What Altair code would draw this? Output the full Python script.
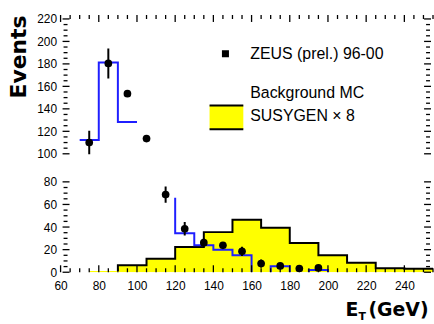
import altair as alt
import pandas as pd

# ZEUS preliminary 96-00: bin centres in E_T (GeV), events and statistical errors
et_data = [75, 85, 95, 105, 115, 125, 135, 145, 155, 165, 175, 185, 195]
n_data = [110.0, 180.4, 153.5, 113.5, 68.7, 38.5, 26.2, 23.8, 18.5, 7.7, 5.6, 3.3, 3.8]
err_data = [10.5, 13.3, 0.0, 0.0, 7.3, 5.9, 3.7, 0.0, 4.1, 3.5, 2.0, 0.0, 1.5]

# Background MC, 10 GeV bins (upper and lower part of the broken axis)
bg_upper_lo = [70, 80, 90]
bg_upper_val = [112.3, 181.3, 128.2]
bg_lower_lead = 66.0
bg_lower_lo = [120, 130, 140, 150, 160, 170, 180, 190]
bg_lower_val = [34.6, 23.8, 20.0, 15.0, 0.0, 5.3, 0.0, 2.0]

# SUSYGEN signal scaled by 8, 15 GeV bins
sig_lo = [75, 90, 105, 120, 135, 150, 165, 180, 195, 210, 225, 240]
sig_val = [1.0, 6.2, 11.9, 22.3, 35.5, 46.4, 39.4, 25.8, 15.0, 8.5, 3.5, 3.0]
SIG_W = 15
BG_W = 10

legend_labels = ["ZEUS (prel.) 96-00", "Background MC", "SUSYGEN \u00d7 8"]

X_DOM = [60, 255]
Y_UP = [98, 223.5]
Y_LO = [0, 80]
W, H_UP, H_LO = 375, 142, 91
LABEL_FONT = "Liberation Sans"
TITLE_FONT = "DejaVu Sans"
BLUE = "#1f1fff"
YELLOW = "#ffff00"

x_tick_vals = list(range(60, 256, 5))
x_label_vals = list(range(60, 241, 20))
up_tick_vals = list(range(100, 224, 5))
up_label_vals = list(range(100, 221, 20))
lo_tick_vals = list(range(0, 81, 5))
lo_label_vals = list(range(0, 81, 20))


def step_segments(lefts, vals, width, lead=None, rise_first=True, drop_last=True):
    """Vertices of a histogram outline; empty bins break the line."""
    xs, ys, segs = [], [], []
    seg = 0

    def add(x, y):
        xs.append(x)
        ys.append(y)
        segs.append(seg)

    open_ = lead is not None
    if open_:
        add(lefts[0], lead)
    first = True
    for lo, v in zip(lefts, vals):
        if v > 0:
            if not open_:
                if rise_first or not first:
                    add(lo, 0)
                open_ = True
            add(lo, v)
            add(lo + width, v)
        elif open_:
            add(lo, 0)
            seg += 1
            open_ = False
        first = False
    if open_ and drop_last:
        add(lefts[-1] + width, 0)
    return pd.DataFrame({"x": xs, "y": ys, "seg": segs, "i": list(range(len(xs)))})


def tick_frame(values, major_every):
    return pd.DataFrame({"v": values, "major": [v % major_every == 0 for v in values]})


points = pd.DataFrame({"et": et_data, "n": n_data, "err": err_data})
points["lo"] = points["n"] - points["err"]
points["hi"] = points["n"] + points["err"]
bars = points[points["err"] > 0]

xs = alt.Scale(domain=X_DOM, nice=False, zero=False)
ys_up = alt.Scale(domain=Y_UP, nice=False, zero=False)
ys_lo = alt.Scale(domain=Y_LO, nice=False, zero=False)


def left_axis(values, title):
    return alt.Axis(values=values, domain=False, grid=False, ticks=False, labelPadding=4,
                    labelFlush=False, labelFont=LABEL_FONT, labelFontSize=12,
                    labelColor="black", title=title, titleFont=TITLE_FONT, titleFontSize=22,
                    titleFontWeight="bold", titleColor="black", titleAnchor="end",
                    titlePadding=0, minExtent=30, maxExtent=30)


def y_ticks(values, scale, width):
    """Inward tick marks on the left and right frame edges."""
    df = tick_frame(values, 20)
    layers = []
    for is_major, (a, b) in [(False, (3, 7)), (True, (2, 9))]:
        sub = df[df["major"] == is_major]
        for x1, x2 in [(a, b), (width - b, width - a)]:
            layers.append(alt.Chart(sub).mark_rule(color="black", strokeWidth=1.3).encode(
                y=alt.Y("v:Q", scale=scale, axis=None),
                x=alt.value(x1), x2=alt.value(x2)))
    return layers


def x_ticks(values, y_from, y_to_minor, y_to_major):
    df = tick_frame(values, 20)
    layers = []
    for is_major, y_to in [(False, y_to_minor), (True, y_to_major)]:
        sub = df[df["major"] == is_major]
        layers.append(alt.Chart(sub).mark_rule(color="black", strokeWidth=1.3).encode(
            x=alt.X("v:Q", scale=xs, axis=None),
            y=alt.value(y_from), y2=alt.value(y_to)))
    return layers


one = pd.DataFrame({"k": [0]})

# ---------- upper frame ----------
bg_up = alt.Chart(step_segments(bg_upper_lo, bg_upper_val, BG_W, rise_first=False,
                                drop_last=False)).mark_line(
    color=BLUE, strokeWidth=2, clip=True
).encode(
    x=alt.X("x:Q", scale=xs, axis=None),
    y=alt.Y("y:Q", scale=ys_up, axis=left_axis(up_label_vals, "Events")),
    detail="seg:N",
    order="i:Q",
)

up_pts = points[points["et"] <= 105]
up_bars = bars[bars["et"] <= 105]
err_up = alt.Chart(up_bars).mark_rule(color="black", strokeWidth=2, clip=True).encode(
    x=alt.X("et:Q", scale=xs, axis=None),
    y=alt.Y("lo:Q", scale=ys_up, axis=None),
    y2="hi:Q",
)
pts_up = alt.Chart(up_pts).mark_circle(color="black", size=60, opacity=1, clip=True).encode(
    x=alt.X("et:Q", scale=xs, axis=None),
    y=alt.Y("n:Q", scale=ys_up, axis=None),
)

leg_marker = alt.Chart(one).mark_square(color="black", size=50, opacity=1).encode(
    x=alt.value(166), y=alt.value(39))
leg_box = alt.Chart(one).mark_rect(color=YELLOW).encode(
    x=alt.value(150), x2=alt.value(184), y=alt.value(91), y2=alt.value(115))
leg_top = alt.Chart(one).mark_rule(color="black", strokeWidth=2).encode(
    x=alt.value(150), x2=alt.value(184), y=alt.value(91))
leg_bot = alt.Chart(one).mark_rule(color="black", strokeWidth=2).encode(
    x=alt.value(150), x2=alt.value(184), y=alt.value(115))
leg_texts = [
    alt.Chart(one).mark_text(align="left", baseline="alphabetic", font=LABEL_FONT,
                             fontSize=16, color="black").encode(
        x=alt.value(191), y=alt.value(yb), text=alt.value(lbl))
    for lbl, yb in zip(legend_labels, [44, 84, 107])
]

upper = alt.layer(
    bg_up, err_up, pts_up,
    *y_ticks(up_tick_vals, ys_up, W),
    *x_ticks(x_tick_vals, 0, 4, 7),
    leg_box, leg_top, leg_bot, leg_marker, *leg_texts,
).resolve_axis(x="independent", y="independent").properties(width=W, height=H_UP)

# ---------- lower frame ----------
sig_df = pd.DataFrame({"x": sig_lo + [sig_lo[-1] + SIG_W], "y": sig_val + [sig_val[-1]]})
sig_area = alt.Chart(sig_df).mark_area(color=YELLOW, interpolate="step-after", opacity=1,
                                       clip=True).encode(
    x=alt.X("x:Q", scale=xs, axis=alt.Axis(values=x_label_vals, domain=False,
                                           grid=False, ticks=False, labelPadding=8,
                                           labelFlush=False, labelFont=LABEL_FONT,
                                           labelFontSize=12, labelColor="black", title="")),
    y=alt.Y("y:Q", scale=ys_lo, axis=left_axis(lo_label_vals, "")),
)
sig_line = alt.Chart(step_segments(sig_lo[1:], sig_val[1:], SIG_W, lead=sig_val[0],
                                   drop_last=False)).mark_line(
    color="black", strokeWidth=2, clip=True
).encode(
    x=alt.X("x:Q", scale=xs, axis=None),
    y=alt.Y("y:Q", scale=ys_lo, axis=None),
    detail="seg:N",
    order="i:Q",
)
bg_lo = alt.Chart(step_segments(bg_lower_lo, bg_lower_val, BG_W,
                                lead=bg_lower_lead)).mark_line(
    color=BLUE, strokeWidth=2, clip=True
).encode(
    x=alt.X("x:Q", scale=xs, axis=None),
    y=alt.Y("y:Q", scale=ys_lo, axis=None),
    detail="seg:N",
    order="i:Q",
)
lo_pts = points[points["et"] >= 115]
lo_bars = bars[bars["et"] >= 115]
err_lo = alt.Chart(lo_bars).mark_rule(color="black", strokeWidth=2, clip=True).encode(
    x=alt.X("et:Q", scale=xs, axis=None),
    y=alt.Y("lo:Q", scale=ys_lo, axis=None),
    y2="hi:Q",
)
pts_lo = alt.Chart(lo_pts).mark_circle(color="black", size=60, opacity=1, clip=True).encode(
    x=alt.X("et:Q", scale=xs, axis=None),
    y=alt.Y("n:Q", scale=ys_lo, axis=None),
)

# axis title E_T (GeV) with a subscript
t_E = alt.Chart(one).mark_text(align="left", baseline="alphabetic", font=TITLE_FONT,
                               fontSize=19, fontWeight="bold", color="black").encode(
    x=alt.value(287), y=alt.value(135), text=alt.value("E"))
t_T = alt.Chart(one).mark_text(align="left", baseline="alphabetic", font=TITLE_FONT,
                               fontSize=11, fontWeight="bold", color="black").encode(
    x=alt.value(300), y=alt.value(139), text=alt.value("T"))
t_unit = alt.Chart(one).mark_text(align="left", baseline="alphabetic", font=TITLE_FONT,
                                  fontSize=19, fontWeight="bold", color="black").encode(
    x=alt.value(310), y=alt.value(135), text=alt.value("(GeV)"))

lower = alt.layer(
    sig_area, sig_line, bg_lo, err_lo, pts_lo,
    *y_ticks(lo_tick_vals, ys_lo, W),
    *x_ticks(x_tick_vals, H_LO, H_LO - 4, H_LO - 7),
    t_E, t_T, t_unit,
).resolve_axis(x="independent", y="independent").properties(width=W, height=H_LO)

chart = alt.vconcat(upper, lower, spacing=26, bounds="flush").configure_view(
    stroke=None
).properties(padding={"left": 8, "top": 11, "right": 0, "bottom": 0})

chart.save("out.html", embed_options={"renderer": "svg", "actions": False})
